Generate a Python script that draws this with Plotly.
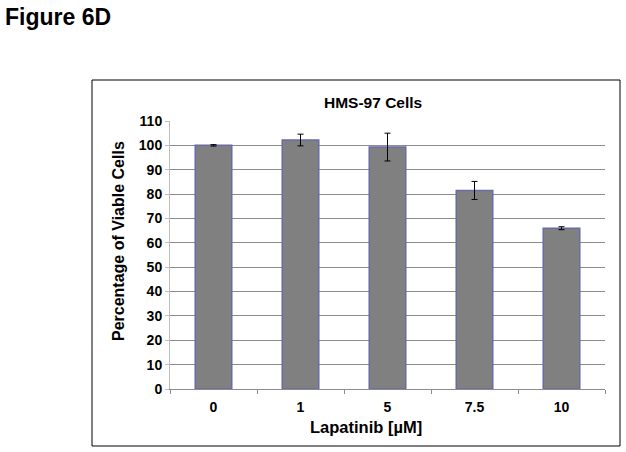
import plotly.graph_objects as go

# Lapatinib dose (µM) vs viable cells (% of control), mean ± error
doses = ["0", "1", "5", "7.5", "10"]
viable_pct = [100.0, 102.2, 99.3, 81.5, 66.0]
error_pct = [0.3, 2.4, 5.7, 3.7, 0.6]
y_ticks = list(range(0, 111, 10))

W, H = 626, 452
FONT = "Arial, Liberation Sans, sans-serif"


def px_x(v):
    return v / W


def px_y(v):
    return 1 - v / H


fig = go.Figure(
    go.Bar(
        x=doses,
        y=viable_pct,
        error_y=dict(type="data", array=error_pct, color="#000000",
                     thickness=1, width=3),
        marker=dict(color="#808080", line=dict(color="#6a6aa6", width=1.5)),
    )
)

fig.update_layout(
    width=W,
    height=H,
    margin=dict(l=0, r=0, t=0, b=0, pad=0),
    paper_bgcolor="white",
    plot_bgcolor="white",
    showlegend=False,
    bargap=0.58,
    font=dict(family=FONT, color="#000000"),
    xaxis=dict(
        domain=[px_x(170), px_x(605)],
        automargin=False,
        showline=True, linecolor="#8c8c8c", linewidth=1,
        ticks="outside", tickson="boundaries", ticklen=4, tickcolor="#8c8c8c",
        ticklabelstandoff=5,
        tickfont=dict(size=14, family=FONT, weight="bold"),
    ),
    yaxis=dict(
        domain=[px_y(389), px_y(121)],
        automargin=False,
        range=[0, 110],
        tickvals=y_ticks,
        showline=True, linecolor="#bdbdbd", linewidth=1,
        ticks="outside", ticklen=4, tickcolor="#bdbdbd",
        showgrid=True, gridcolor="#8c8c8c", gridwidth=1,
        zeroline=False,
        tickfont=dict(size=14, family=FONT, weight="bold"),
    ),
    shapes=[
        dict(type="rect", xref="paper", yref="paper",
             x0=px_x(92), x1=px_x(620), y0=px_y(446), y1=px_y(80),
             line=dict(color="#000000", width=1), fillcolor="rgba(0,0,0,0)"),
    ],
    annotations=[
        dict(text="<b>Figure 6D</b>", xref="paper", yref="paper",
             x=px_x(3), y=px_y(17), xanchor="left", yanchor="middle",
             showarrow=False, font=dict(size=23, family=FONT)),
        dict(text="<b>HMS-97 Cells</b>", xref="paper", yref="paper",
             x=px_x(373), y=px_y(102), xanchor="center", yanchor="middle",
             showarrow=False, font=dict(size=15.5, family=FONT)),
        # axis titles sit off-centre in the original, so place them directly
        dict(text="<b>Lapatinib [µM]</b>", xref="paper", yref="paper",
             x=px_x(366), y=px_y(427), xanchor="center", yanchor="middle",
             showarrow=False, font=dict(size=16.5, family=FONT)),
        dict(text="<b>Percentage of Viable Cells</b>", xref="paper", yref="paper",
             x=px_x(118), y=px_y(241), xanchor="center", yanchor="middle",
             textangle=-90, showarrow=False, font=dict(size=16, family=FONT)),
    ],
)

fig.write_html("out.html", config={"displayModeBar": False},
               post_script="document.body.style.margin='0';")
